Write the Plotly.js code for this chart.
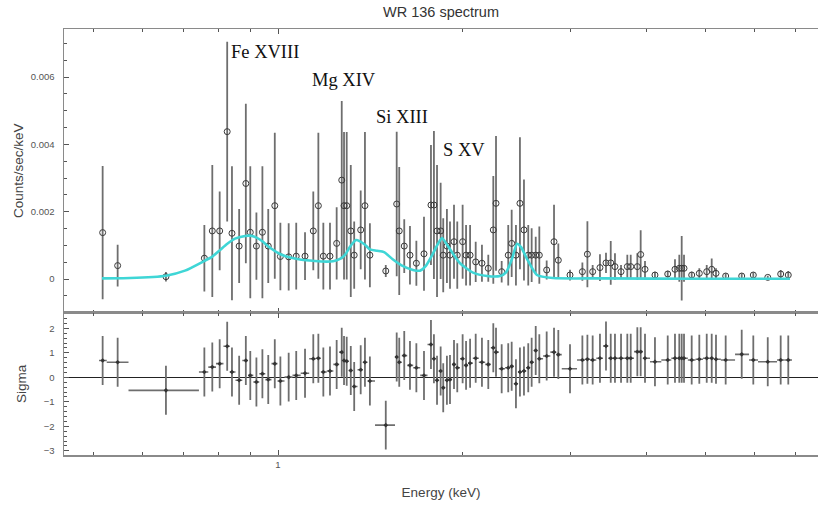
<!DOCTYPE html>
<html>
<head>
<meta charset="utf-8">
<script src="https://cdn.plot.ly/plotly-3.0.1.min.js"></script>
<style>
  html, body { margin: 0; padding: 0; background: #fff; }
  #chart { width: 818px; height: 505px; }
</style>
</head>
<body>
<div id="chart"></div>
<script>
// WR 136 X-ray spectrum: binned data, folded model and residuals.

// Bin centres (keV)
const binCenter = [
  0.517, 0.547, 0.656, 0.758, 0.781, 0.803, 0.826, 0.841, 0.864, 0.886,
  0.901, 0.922, 0.943, 0.964, 0.988, 1.009, 1.041, 1.071, 1.107, 1.142,
  1.164, 1.186, 1.216, 1.247, 1.271, 1.282, 1.295, 1.315, 1.332, 1.365,
  1.387, 1.413, 1.500, 1.563, 1.578, 1.608, 1.643, 1.683, 1.732, 1.778,
  1.798, 1.819, 1.844, 1.862, 1.888, 1.910, 1.939, 1.963, 2.003, 2.029,
  2.060, 2.104, 2.154, 2.206, 2.248, 2.271, 2.320, 2.378, 2.409, 2.448,
  2.485, 2.523, 2.564, 2.597, 2.637, 2.673, 2.748, 2.825, 2.871, 3.000,
  3.143, 3.203, 3.267, 3.358, 3.435, 3.497, 3.553, 3.635, 3.722, 3.770,
  3.865, 3.914, 3.978, 4.130, 4.333, 4.453, 4.526, 4.567, 4.607, 4.742,
  4.880, 5.018, 5.113, 5.196, 5.389, 5.724, 5.979, 6.313, 6.628, 6.820
];

// Bin boundaries (keV), one more than the number of bins
const binEdge = [
  0.510, 0.525, 0.5698, 0.7427, 0.7693, 0.7919, 0.8145, 0.8339, 0.8522, 0.8743,
  0.8934, 0.9113, 0.9320, 0.9534, 0.9758, 0.9981, 1.0248, 1.0561, 1.0891, 1.1245,
  1.1529, 1.1749, 1.2013, 1.2315, 1.2589, 1.2761, 1.2882, 1.3048, 1.3236, 1.3487,
  1.3759, 1.4004, 1.4406, 1.5531, 1.5707, 1.5934, 1.6260, 1.6631, 1.7075, 1.7550,
  1.7883, 1.8086, 1.8313, 1.8535, 1.8759, 1.8993, 1.9245, 1.9515, 1.9833, 2.0157,
  2.0439, 2.0812, 2.1287, 2.1806, 2.2270, 2.2599, 2.2951, 2.3493, 2.3939, 2.4285,
  2.4672, 2.5046, 2.5445, 2.5812, 2.6175, 2.6552, 2.7108, 2.7863, 2.8489, 2.9084,
  3.0804, 3.1719, 3.2346, 3.3122, 3.3967, 3.4651, 3.5243, 3.5938, 3.6788, 3.7457,
  3.8169, 3.8893, 3.9454, 4.0538, 4.2301, 4.3923, 4.4909, 4.5470, 4.5865, 4.6737,
  4.8112, 4.9488, 5.0658, 5.1542, 5.2916, 5.5823, 5.8838, 6.0863, 6.5377, 6.7249,
  6.9167
];

// Count rate (counts/sec/keV)
const rate = [
  0.00138, 0.00040, 0.00007, 0.00062, 0.00143, 0.00143, 0.00438, 0.00136, 0.00098, 0.00284,
  0.00139, 0.00098, 0.00139, 0.00098, 0.00218, 0.00067, 0.00066, 0.00068, 0.00068, 0.00143,
  0.00218, 0.00068, 0.00068, 0.00106, 0.00294, 0.00218, 0.00218, 0.00143, 0.00071, 0.00146,
  0.00218, 0.00071, 0.00024, 0.00223, 0.00143, 0.00098, 0.00071, 0.00047, 0.00075, 0.00220,
  0.00220, 0.00143, 0.00143, 0.00071, 0.00098, 0.00071, 0.00111, 0.00071, 0.00111, 0.00071,
  0.00071, 0.00051, 0.00047, 0.00032, 0.00146, 0.00225, 0.00022, 0.00071, 0.00106, 0.00071,
  0.00225, 0.00146, 0.00071, 0.00071, 0.00071, 0.00071, 0.00027, 0.00111, 0.00056, 0.00012,
  0.00022, 0.00074, 0.00022, 0.00034, 0.00048, 0.00048, 0.00037, 0.00022, 0.00037, 0.00037,
  0.00037, 0.00073, 0.00029, 0.00012, 0.00015, 0.00029, 0.00032, 0.00032, 0.00032, 0.00012,
  0.00017, 0.00022, 0.00029, 0.00017, 0.00009, 0.00009, 0.00012, 0.00005, 0.00015, 0.00012
];

// 1-sigma uncertainty on the count rate
const rateErr = [
  0.00198, 0.00062, 0.00014, 0.00099, 0.00196, 0.00117, 0.00267, 0.00199, 0.00110, 0.00237,
  0.00196, 0.00100, 0.00196, 0.00110, 0.00217, 0.00100, 0.00100, 0.00099, 0.00071, 0.00117,
  0.00217, 0.00099, 0.00099, 0.00107, 0.00235, 0.00219, 0.00219, 0.00196, 0.00100, 0.00117,
  0.00219, 0.00095, 0.00018, 0.00215, 0.00190, 0.00080, 0.00087, 0.00067, 0.00110, 0.00178,
  0.00220, 0.00196, 0.00143, 0.00110, 0.00110, 0.00100, 0.00110, 0.00100, 0.00110, 0.00090,
  0.00090, 0.00060, 0.00055, 0.00040, 0.00160, 0.00200, 0.00032, 0.00090, 0.00100, 0.00090,
  0.00196, 0.00150, 0.00090, 0.00080, 0.00055, 0.00085, 0.00028, 0.00110, 0.00050, 0.00016,
  0.00027, 0.00098, 0.00020, 0.00040, 0.00030, 0.00065, 0.00040, 0.00020, 0.00035, 0.00035,
  0.00040, 0.00072, 0.00025, 0.00010, 0.00010, 0.00030, 0.00040, 0.00096, 0.00040, 0.00010,
  0.00015, 0.00020, 0.00032, 0.00015, 0.00008, 0.00008, 0.00008, 0.00005, 0.00012, 0.00012
];

// Residuals (data - model) / error
const sigma = [
  0.69, 0.62, -0.53, 0.22, 0.42, 0.56, 1.27, 0.22, -0.12, 0.69,
  0.08, -0.19, 0.15, -0.09, 0.56, -0.15, 0.01, 0.08, 0.17, 0.76,
  0.78, 0.22, 0.26, 0.53, 1.03, 0.69, 0.66, 0.28, -0.37, 0.31,
  0.62, -0.15, -1.95, 0.83, 0.62, 0.89, 0.49, 0.39, 0.08, 1.34,
  0.76, -0.12, 0.26, -0.42, -0.12, -0.09, 0.53, 0.39, 0.76, 0.49,
  0.58, 0.78, 0.62, 0.53, 1.21, 1.03, 0.35, 0.39, 0.45, -0.26,
  0.22, 0.26, 0.39, 0.62, 1.10, 0.76, 0.87, 1.03, 0.93, 0.35,
  0.71, 0.74, 0.71, 0.78, 1.28, 0.78, 0.78, 0.78, 0.78, 0.78,
  1.05, 1.05, 0.78, 0.64, 0.71, 0.78, 0.78, 0.78, 0.78, 0.71,
  0.74, 0.78, 0.78, 0.74, 0.71, 0.94, 0.71, 0.64, 0.71, 0.71
];

// Folded model curve
const modelEnergy = [
  0.5158, 0.5730, 0.6561, 0.7047, 0.7599, 0.7800, 0.8038, 0.8254, 0.8506, 0.8834,
  0.9000, 0.9205, 0.9416, 0.9704, 1.0114, 1.0462, 1.0863, 1.1279, 1.1845, 1.2300,
  1.2627, 1.2867, 1.3112, 1.3411, 1.3614, 1.3872, 1.4136, 1.4514, 1.4902, 1.5415,
  1.5945, 1.6618, 1.7062, 1.7453, 1.7917, 1.8257, 1.8535, 1.8888, 1.9245, 1.9833,
  2.0828, 2.1954, 2.3056, 2.3584, 2.4122, 2.4580, 2.4951, 2.5521, 2.6502, 2.8148,
  3.358, 4.8932, 6.8648
];
const modelRate = [
  0.00002, 0.00003, 0.00010, 0.00025, 0.00055, 0.00066, 0.00086, 0.00104, 0.00120, 0.00128,
  0.00129, 0.00124, 0.00113, 0.00093, 0.00073, 0.00064, 0.00058, 0.00055, 0.00052, 0.00053,
  0.00060, 0.00072, 0.00096, 0.00116, 0.00112, 0.00102, 0.00088, 0.00084, 0.00080, 0.00058,
  0.00040, 0.00027, 0.00025, 0.00040, 0.00076, 0.00105, 0.00122, 0.00102, 0.00080, 0.00047,
  0.00019, 0.00009, 0.00009, 0.00020, 0.00060, 0.00105, 0.00095, 0.00060, 0.00012, 0.00003,
  0.00002, 0.00001, 0.00001
];

// Tick values
const yTicks = [0, 0.002, 0.004, 0.006];
const yTickText = ['0', '0.002', '0.004', '0.006'];
const sigmaTicks = [-3, -2, -1, 0, 1, 2];
const xMajorTicks = [1];
const xMinorTicks = [0.5, 0.6, 0.7, 0.8, 0.9, 2, 3, 4, 5, 6, 7];

const errPlus = binCenter.map((c, i) => binEdge[i + 1] - c);
const errMinus = binCenter.map((c, i) => c - binEdge[i]);

const axisGrey = '#8a8a8a';
const tickFont = { family: 'Liberation Sans Narrow, Liberation Sans, Arial, sans-serif', size: 9.5, color: '#555' };
const titleFont = { family: 'Liberation Sans, Arial, sans-serif', size: 13.5, color: '#444' };
const lineLabelFont = { family: 'Liberation Serif, Times New Roman, serif', size: 18.5, color: '#111' };

const data = [
  {
    x: binCenter, y: rate, xaxis: 'x', yaxis: 'y',
    type: 'scatter', mode: 'markers',
    marker: { symbol: 'circle-open', size: 6, color: '#3a3a3a', line: { width: 1 } },
    error_y: { type: 'data', array: rateErr, visible: true, color: '#6e6e6e', thickness: 1.8, width: 0 },
    hoverinfo: 'x+y'
  },
  {
    x: modelEnergy, y: modelRate, xaxis: 'x', yaxis: 'y',
    type: 'scatter', mode: 'lines',
    line: { color: '#3fd6d6', width: 2.6, shape: 'spline', smoothing: 0.6 },
    hoverinfo: 'skip'
  },
  {
    x: binCenter, y: sigma, xaxis: 'x2', yaxis: 'y2',
    type: 'scatter', mode: 'markers',
    marker: { symbol: 'diamond', size: 3.5, color: '#333' },
    error_x: { type: 'data', symmetric: false, array: errPlus, arrayminus: errMinus, visible: true, color: '#6e6e6e', thickness: 1.6, width: 0 },
    error_y: { type: 'constant', value: 1, visible: true, color: '#6e6e6e', thickness: 1.8, width: 0 },
    hoverinfo: 'x+y'
  }
];

const xBase = {
  type: 'log',
  range: [-0.34967, 0.88235],
  showgrid: false, zeroline: false,
  showline: true, linecolor: axisGrey, linewidth: 1.5,
  mirror: 'allticks',
  ticks: 'inside', ticklen: 5, tickwidth: 1, tickcolor: '#555',
  tickmode: 'array', tickvals: xMajorTicks, ticktext: ['1'],
  minor: { tickmode: 'array', tickvals: xMinorTicks, ticks: 'inside', ticklen: 3, tickcolor: '#555', showgrid: false },
  tickfont: tickFont
};

const layout = {
  width: 818, height: 505,
  margin: { l: 64, r: 0, t: 29, b: 50 },
  paper_bgcolor: '#fff', plot_bgcolor: '#fff',
  showlegend: false,
  title: {
    text: 'WR 136 spectrum',
    font: { family: 'Liberation Sans, Arial, sans-serif', size: 14.5, color: '#333' },
    x: 0.5, xref: 'paper', xanchor: 'center',
    y: 0.976, yref: 'container', yanchor: 'middle'
  },
  xaxis: Object.assign({}, xBase, { anchor: 'y', domain: [0, 1], showticklabels: false }),
  xaxis2: Object.assign({}, xBase, {
    anchor: 'y2', domain: [0, 1], matches: 'x', showticklabels: true,
    title: { text: 'Energy (keV)', font: titleFont, standoff: 18 }
  }),
  yaxis: {
    domain: [0.334, 1], anchor: 'x',
    range: [-0.00100, 0.00743],
    showgrid: false, zeroline: false,
    showline: true, linecolor: axisGrey, linewidth: 1.5, mirror: true,
    ticks: 'inside', ticklen: 5, tickcolor: '#555',
    tickmode: 'array', tickvals: yTicks, ticktext: yTickText,
    minor: { dtick: 0.0005, tick0: 0, ticks: 'inside', ticklen: 3, tickcolor: '#555', showgrid: false },
    tickfont: tickFont, ticklabelstandoff: 6,
    title: { text: 'Counts/sec/keV', font: titleFont, standoff: 4 }
  },
  yaxis2: {
    domain: [0, 0.334], anchor: 'x2',
    range: [-3.17, 2.64],
    showgrid: false,
    zeroline: true, zerolinecolor: '#222', zerolinewidth: 1.2,
    showline: true, linecolor: axisGrey, linewidth: 1.5, mirror: true,
    ticks: 'inside', ticklen: 5, tickcolor: '#555',
    tickmode: 'array', tickvals: sigmaTicks,
    minor: { dtick: 0.2, tick0: 0, ticks: 'inside', ticklen: 2.5, tickcolor: '#555', showgrid: false },
    tickfont: tickFont, ticklabelstandoff: 6,
    title: { text: 'Sigma', font: titleFont, standoff: 14 }
  },
  annotations: [
    { text: 'Fe XVIII', xref: 'x', yref: 'y', x: -0.0801, y: 0.00675, xanchor: 'left', yanchor: 'middle', showarrow: false, font: lineLabelFont },
    { text: 'Mg XIV', xref: 'x', yref: 'y', x: 0.0523, y: 0.00590, xanchor: 'left', yanchor: 'middle', showarrow: false, font: lineLabelFont },
    { text: 'Si XIII', xref: 'x', yref: 'y', x: 0.1569, y: 0.00483, xanchor: 'left', yanchor: 'middle', showarrow: false, font: lineLabelFont },
    { text: 'S XV', xref: 'x', yref: 'y', x: 0.2658, y: 0.00383, xanchor: 'left', yanchor: 'middle', showarrow: false, font: lineLabelFont }
  ]
};

Plotly.newPlot('chart', data, layout, { displayModeBar: false, staticPlot: true });
</script>
</body>
</html>
